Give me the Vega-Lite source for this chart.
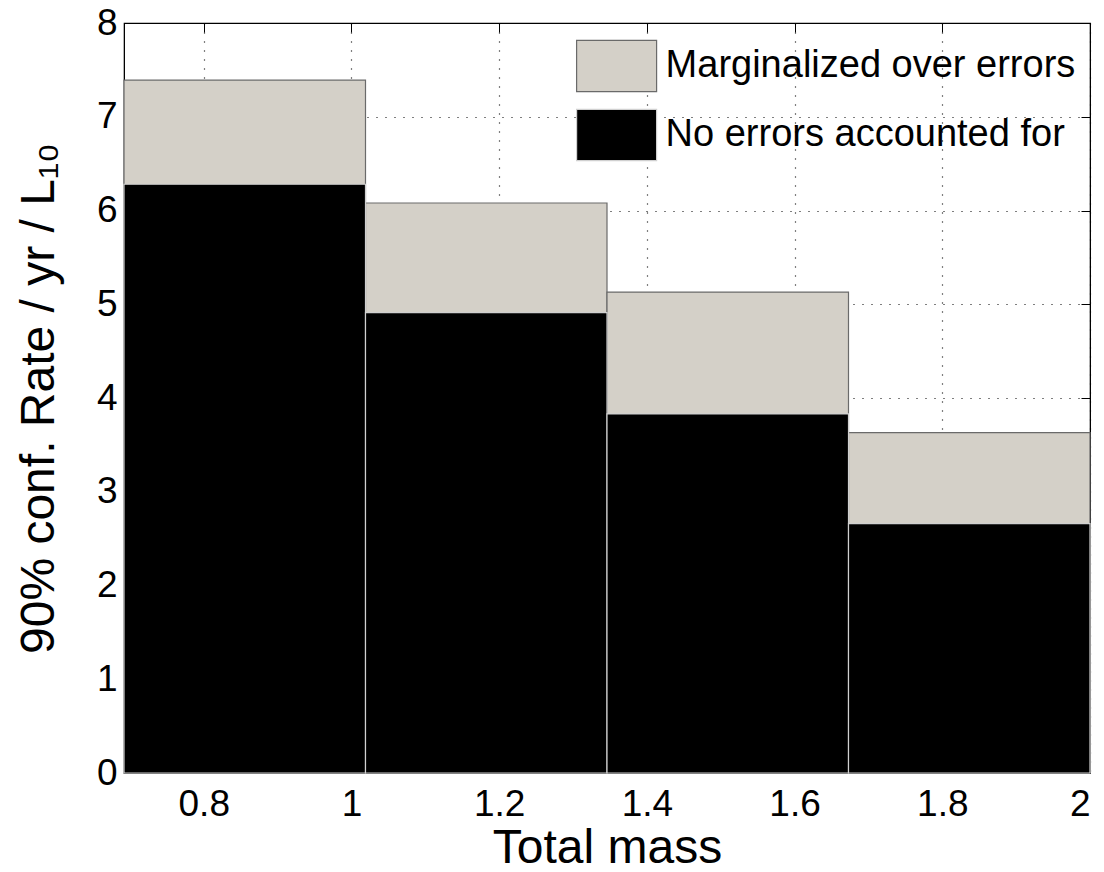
{
  "$schema": "https://vega.github.io/schema/vega-lite/v6.json",
  "autosize": "none",
  "width": 966,
  "height": 750,
  "padding": {"left": 124, "top": 23, "right": 14, "bottom": 99},
  "background": "white",
  "config": {
    "font": "Liberation Sans",
    "view": {"stroke": "black", "strokeWidth": 1.2},
    "axis": {"labelFont": "Liberation Sans", "titleFont": "Liberation Sans", "labelColor": "black", "titleColor": "black", "titleFontWeight": "normal", "domainColor": "black", "tickColor": "black"}
  },
  "data": {
    "values": [
      {"lo": 0.692, "hi": 1.019, "rate": 7.39, "series": "Marginalized over errors"},
      {"lo": 1.019, "hi": 1.346, "rate": 6.08, "series": "Marginalized over errors"},
      {"lo": 1.346, "hi": 1.673, "rate": 5.13, "series": "Marginalized over errors"},
      {"lo": 1.673, "hi": 2.0, "rate": 3.63, "series": "Marginalized over errors"},
      {"lo": 0.692, "hi": 1.019, "rate": 6.28, "series": "No errors accounted for"},
      {"lo": 1.019, "hi": 1.346, "rate": 4.91, "series": "No errors accounted for"},
      {"lo": 1.346, "hi": 1.673, "rate": 3.83, "series": "No errors accounted for"},
      {"lo": 1.673, "hi": 2.0, "rate": 2.66, "series": "No errors accounted for"}
    ]
  },
  "resolve": {"axis": {"x": "independent", "y": "independent"}},
  "layer": [
    {
      "mark": {"type": "bar", "strokeWidth": 1.2},
      "encoding": {
        "x": {"field": "lo", "type": "quantitative",
          "scale": {"domain": [0.692, 2.0], "nice": false, "zero": false},
          "axis": {"orient": "bottom", "values": [0.8, 1.0, 1.2, 1.4, 1.6, 1.8, 2.0], "format": "~g",
            "title": "Total mass", "titleFontSize": 48, "titlePadding": 2,
            "labelFontSize": 37, "labelPadding": 22, "tickSize": -9, "domain": true,
            "grid": true, "gridColor": "black", "gridDash": [1, 8], "gridOpacity": 1, "gridWidth": 1.2}},
        "x2": {"field": "hi"},
        "y": {"field": "rate", "type": "quantitative", "stack": null,
          "scale": {"domain": [0, 8], "nice": false},
          "axis": {"orient": "left", "values": [0, 1, 2, 3, 4, 5, 6, 7, 8],
            "title": "90% conf. Rate / yr / L₁₀", "titleFontSize": 48, "titlePadding": 33,
            "labelFontSize": 37, "labelPadding": 16, "tickSize": -9,
            "grid": true, "gridColor": "black", "gridDash": [1, 8], "gridOpacity": 1, "gridWidth": 1.2}},
        "y2": {"datum": 0},
        "fill": {"field": "series", "type": "nominal",
          "scale": {"domain": ["Marginalized over errors", "No errors accounted for"], "range": ["#d4d0c8", "#000000"]},
          "legend": {"title": null, "orient": "none", "legendX": 451.6, "legendY": 2,
            "symbolType": "M-1,-0.64L1,-0.64L1,0.64L-1,0.64Z", "symbolSize": 6400,
            "symbolStrokeWidth": 1.2, "symbolOpacity": 1,
            "labelFontSize": 38, "labelFont": "Liberation Sans", "labelColor": "black",
            "labelOffset": 8, "rowPadding": -13, "padding": 0, "labelLimit": 600}},
        "stroke": {"field": "series", "type": "nominal",
          "scale": {"domain": ["Marginalized over errors", "No errors accounted for"], "range": ["#6a6a6a", "#d0d0d0"]}}
      }
    },
    {
      "mark": {"type": "point", "opacity": 0},
      "encoding": {
        "x": {"field": "lo", "type": "quantitative",
          "axis": {"orient": "top", "values": [0.8, 1.0, 1.2, 1.4, 1.6, 1.8, 2.0], "labels": false, "title": null, "tickSize": -9, "domain": true, "grid": false}},
        "y": {"field": "rate", "type": "quantitative",
          "axis": {"orient": "right", "values": [0, 1, 2, 3, 4, 5, 6, 7, 8], "labels": false, "title": null, "tickSize": -9, "domain": true, "grid": false}}
      }
    }
  ]
}
